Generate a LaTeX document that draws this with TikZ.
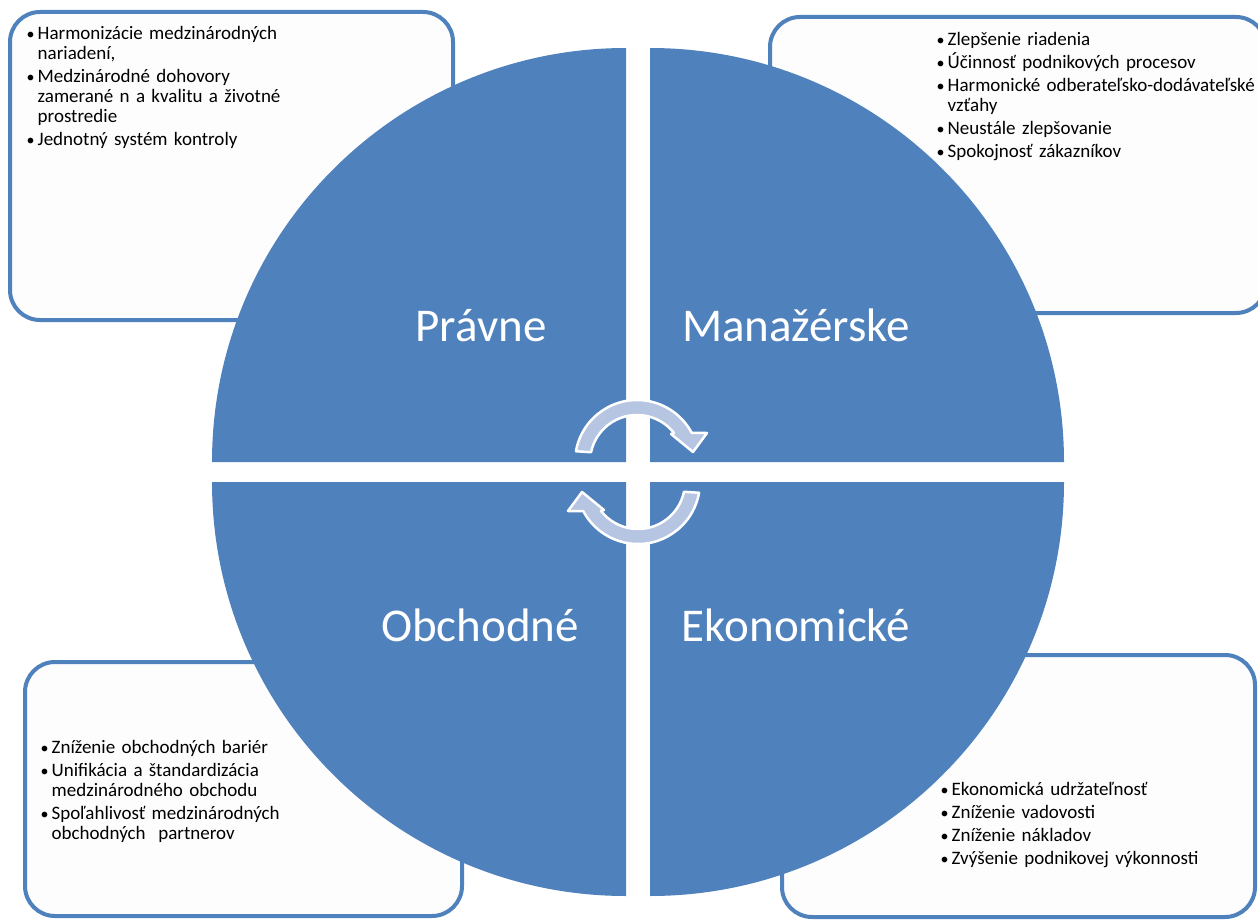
\documentclass[tikz,border=0pt]{standalone}
\usepackage{fontspec}
\setmainfont{Carlito}
\definecolor{qblue}{RGB}{79,129,189}
\definecolor{arrowfill}{RGB}{181,197,226}
\definecolor{boxfill}{RGB}{253,253,253}
\newcommand{\bitem}[1]{\par\hangindent=11pt\hangafter=1\noindent\makebox[11pt][l]{\fontsize{16}{20}\selectfont\textbullet}\strut#1}
\newcommand{\listsetup}{\setlength{\parskip}{3pt}\lineskiplimit=-\maxdimen}
\tikzset{
  infobox/.style={draw=qblue, line width=4pt, fill=boxfill, rounded corners=30pt},
  quad/.style={fill=qblue},
  biglabel/.style={text=white, anchor=base, inner sep=0pt, font=\fontsize{47}{52}\selectfont},
  itemlist/.style={anchor=north west, inner sep=0pt, text width=500pt, font=\fontsize{19}{20}\selectfont},
  cyclearrow/.style={fill=arrowfill, draw=white, line width=2.5pt, line join=round}
}
\begin{document}
\begin{tikzpicture}[x=1pt,y=-1pt]
\useasboundingbox (0,0) rectangle (1258,920);
\fill[white] (0,0) rectangle (1258,920);
% text boxes
\draw[infobox] (10,12) rectangle (453,320);
\draw[infobox] (770,17) rectangle (1266,313);
\draw[infobox] (25,662) rectangle (462,916);
\draw[infobox] (782,655) rectangle (1255,917);
% quadrants
\fill[quad] (626,462) -- (212,462) arc[start angle=180,end angle=270,radius=414] -- cycle;
\fill[quad] (650,462) -- (650,48) arc[start angle=270,end angle=360,radius=414] -- cycle;
\fill[quad] (626,482) -- (212,482) arc[start angle=180,end angle=90,radius=414] -- cycle;
\fill[quad] (650,482) -- (1064,482) arc[start angle=0,end angle=90,radius=414] -- cycle;
% labels
\node[biglabel] (pravne) at (481,341) {Právne};
\node[biglabel] (manazerske) at (796,341) {Manažérske};
\node[biglabel] (obchodne) at (480,641) {Obchodné};
\node[biglabel] (ekonomicke) at (796,641) {Ekonomické};
% cycle arrows
\path[cyclearrow] ([shift={(-170:62)}]637,462) arc[start angle=-170,end angle=-28,radius=62]
  -- (707,433) -- (693,452) -- (671,434)
  -- ([shift={(-38:47)}]637,462) arc[start angle=-38,end angle=-168,radius=47] -- cycle;
\begin{scope}[rotate around={180:(637.5,472)}]
\path[cyclearrow] ([shift={(-170:62)}]637,462) arc[start angle=-170,end angle=-28,radius=62]
  -- (707,433) -- (693,452) -- (671,434)
  -- ([shift={(-38:47)}]637,462) arc[start angle=-38,end angle=-168,radius=47] -- cycle;
\end{scope}
% lists
\node[itemlist] (listpravne) at (26.5,16) {\listsetup
\bitem{Harmonizácie medzinárodných\newline nariadení,}
\bitem{Medzinárodné dohovory\newline zamerané n a kvalitu a životné\newline prostredie}
\bitem{Jednotný systém kontroly}\par};
\node[itemlist] (listmanazerske) at (936.5,22) {\listsetup
\bitem{Zlepšenie riadenia}
\bitem{Účinnosť podnikových procesov}
\bitem{Harmonické odberateľsko-dodávateľské\newline vzťahy}
\bitem{Neustále zlepšovanie}
\bitem{Spokojnosť zákazníkov}\par};
\node[itemlist] (listobchodne) at (40.5,730) {\listsetup
\bitem{Zníženie obchodných bariér}
\bitem{Unifikácia a štandardizácia\newline medzinárodného obchodu}
\bitem{Spoľahlivosť medzinárodných\newline obchodných\ \ partnerov}\par};
\node[itemlist] (listekonomicke) at (940.5,772) {\listsetup
\bitem{Ekonomická udržateľnosť}
\bitem{Zníženie vadovosti}
\bitem{Zníženie nákladov}
\bitem{Zvýšenie podnikovej výkonnosti}\par};
\end{tikzpicture}
\end{document}
